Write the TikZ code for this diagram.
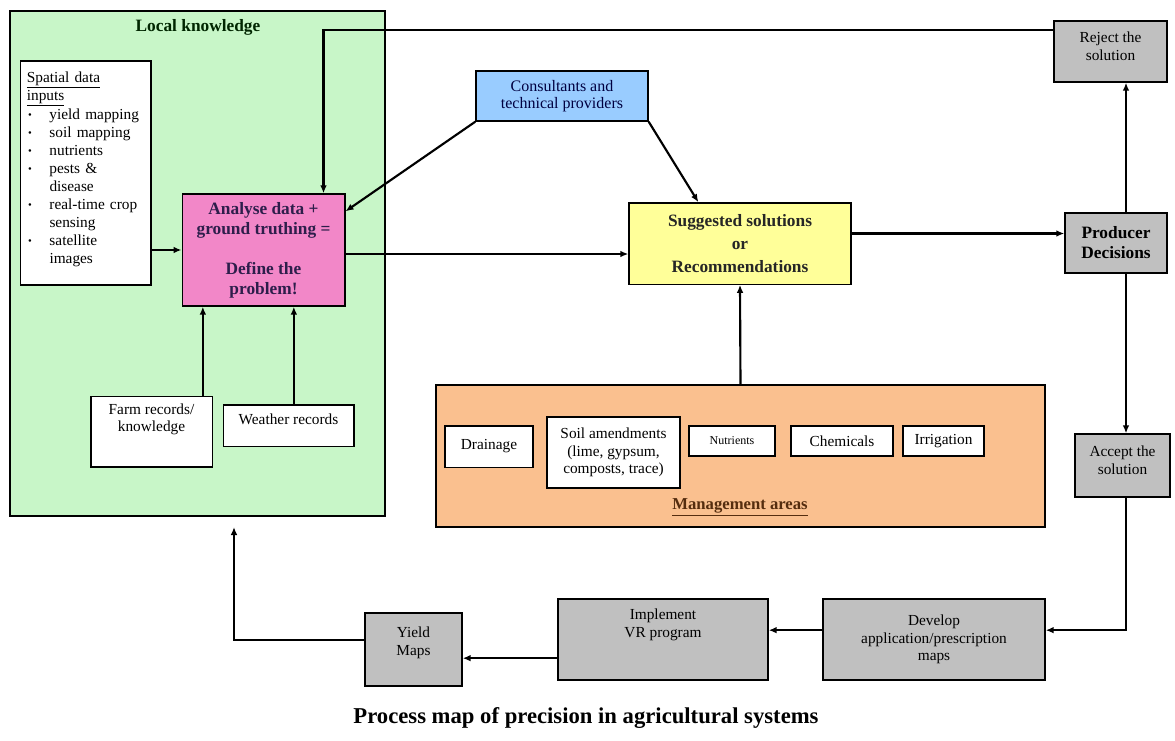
\documentclass[tikz,border=0pt]{standalone}
\usepackage{fontspec}
\setmainfont{Liberation Serif}
\usepackage{tikz}
\usetikzlibrary{arrows.meta,positioning}
\definecolor{lkgreen}{RGB}{200,246,200}
\definecolor{anapink}{RGB}{242,135,200}
\definecolor{conblue}{RGB}{153,204,255}
\definecolor{sugyellow}{RGB}{255,255,153}
\definecolor{decgrey}{RGB}{192,192,192}
\definecolor{mgtorange}{RGB}{250,192,143}
\definecolor{inknavy}{RGB}{45,30,75}
\definecolor{inkbrown}{RGB}{85,45,15}
\newcommand{\itm}{\makebox[17pt][l]{\hspace{1pt}\raisebox{0.5pt}{\footnotesize\textbullet}}}
\newcommand{\cnt}{\makebox[17pt]{}}
\newcommand{\liftup}[2]{\begin{tabular}{@{}c@{}}#2\\[#1]\end{tabular}}

\begin{document}
\begin{tikzpicture}[x=0.75pt, y=-0.75pt,
    box/.style={draw=black, line width=1pt, fill=white, align=center, inner sep=2pt, font=\fontsize{11.5}{13.2}\selectfont},
    greybox/.style={box, fill=decgrey},
    boldbox/.style={box, font=\fontsize{13}{15}\selectfont\bfseries},
    arr/.style={-{Latex[length=6pt,width=5pt]}, line width=1.6pt, draw=black}
  ]
  \fill[white] (0,0) rectangle (1175,740);
  \useasboundingbox (0,0) rectangle (1175,740);

  \node[box, fill=lkgreen, minimum width=281.25pt, minimum height=378.75pt] (lk) at (197.5,263.5) {};
  \node[font=\fontsize{13}{15}\selectfont\bfseries, text=black!85!green] (lkt) at (198,27) {Local knowledge};
  \node[box, align=left, text width=88pt, inner sep=5pt, minimum height=168pt, font=\fontsize{11.5}{13.5}\selectfont] (spa) at (85.5,173)
    {\begin{tabular}{@{}l@{}}
     \underline{Spatial data}\\\underline{inputs}\\
     \itm yield mapping\\\itm soil mapping\\\itm nutrients\\\itm pests \&\\\cnt disease\\
     \itm real-time crop\\\cnt sensing\\\itm satellite\\\cnt images\\[6pt]
     \end{tabular}};
  \node[boldbox, fill=anapink, text=inknavy, minimum width=122pt, minimum height=84pt] (ana) at (263.5,250)
    {Analyse data +\\ground truthing =\\[15pt]Define the\\problem!};
  \node[box, minimum width=91pt, minimum height=53pt] (frm) at (151.5,431.5) {\liftup{18pt}{Farm records/\\knowledge}};
  \node[box, minimum width=98pt, minimum height=31pt] (wea) at (288.5,425.5) {\liftup{7pt}{Weather records}};

  \node[box, fill=conblue, text=black!75!blue, font=\fontsize{12}{13.2}\selectfont, minimum width=129pt, minimum height=37.5pt] (con) at (562,96)
    {Consultants and\\technical providers};
  \node[boldbox, fill=sugyellow, text=black!85, font=\fontsize{13}{17}\selectfont\bfseries, minimum width=166.5pt, minimum height=61pt] (sug) at (740,243.5)
    {Suggested solutions\\or\\Recommendations};

  \node[greybox, minimum width=84.75pt, minimum height=45.75pt] (rej) at (1110.5,51.5) {\liftup{5pt}{Reject the\\solution}};
  \node[boldbox, fill=decgrey, minimum width=76.5pt, minimum height=45pt] (prod) at (1116,243) {Producer\\Decisions};
  \node[greybox, minimum width=71.25pt, minimum height=47.25pt] (acc) at (1122.5,465.5) {\liftup{5pt}{Accept the\\solution}};

  \node[box, fill=mgtorange, minimum width=456.75pt, minimum height=106.5pt] (mgt) at (740.5,456) {};
  \node[box, minimum width=66pt, minimum height=31pt] (drn) at (489,446.5) {Drainage};
  \node[box, minimum width=99.75pt, minimum height=53.25pt] (soil) at (613.5,452.5) {Soil amendments\\(lime, gypsum,\\composts, trace)};
  \node[box, font=\fontsize{9}{10}\selectfont, minimum width=64.5pt, minimum height=22.5pt] (nut) at (732,441) {Nutrients};
  \node[box, minimum width=76.5pt, minimum height=22.5pt] (chem) at (842,441) {Chemicals};
  \node[box, minimum width=60.75pt, minimum height=22.5pt] (irr) at (943.5,441) {Irrigation};
  \node[font=\fontsize{12.5}{15}\selectfont\bfseries, text=inkbrown] (mgtl) at (740,507) {\underline{Management areas}};

  \node[greybox, minimum width=72.75pt, minimum height=54.75pt] (yld) at (413.5,649.5) {\liftup{10pt}{Yield\\Maps}};
  \node[greybox, minimum width=157.5pt, minimum height=60.75pt] (imp) at (663,639.5) {\liftup{22pt}{Implement\\VR program}};
  \node[greybox, minimum width=166.5pt, minimum height=60.75pt] (dev) at (934,639.5) {Develop\\application/prescription\\maps};

  \node[font=\fontsize{17}{20}\selectfont\bfseries] (cap) at (586,718) {Process map of precision in agricultural systems};

  \coordinate (rt) at (1126,0);
  \coordinate (f1) at ([xshift=-7.5pt]frm.north east);
  \coordinate (w1) at ([xshift=4pt]wea.north);
  \coordinate (a1) at ([yshift=-3pt]ana.east);
  \coordinate (s1) at ([yshift=7.5pt]sug.east);
  \coordinate (d1) at ([yshift=7pt]dev.west);
  \coordinate (i1) at ([yshift=-14pt]imp.west);
  \coordinate (g1) at (234,527);

  \draw[arr] (spa.east |- ana.west) -- (ana.west);
  \draw[arr] (f1) -- (f1 |- ana.south);
  \draw[arr] (w1) -- (w1 |- ana.south);
  \draw[arr] (a1) -- (a1 -| sug.west);
  \draw[arr] (con.south west) -- ([yshift=-13.5pt]ana.north east);
  \draw[arr] (con.south east) -- ([xshift=52.5pt]sug.north west);
  \draw[arr] (mgt.north) -- (sug.south);
  \draw[arr] (s1) -- (s1 -| prod.west);
  \draw[arr] (prod.north -| rt) -- (rej.south -| rt);
  \draw[arr] ([yshift=16pt]rej.west) -| ([xshift=45pt]ana.north);
  \draw[arr] (prod.south -| rt) -- (acc.north -| rt);
  \draw[arr] (acc.south -| rt) |- (dev.east |- d1);
  \draw[arr] (d1) -- (d1 -| imp.east);
  \draw[arr] (i1) -- (i1 -| yld.east);
  \draw[arr] ([yshift=7pt]yld.west) -| (g1);
\end{tikzpicture}
\end{document}
